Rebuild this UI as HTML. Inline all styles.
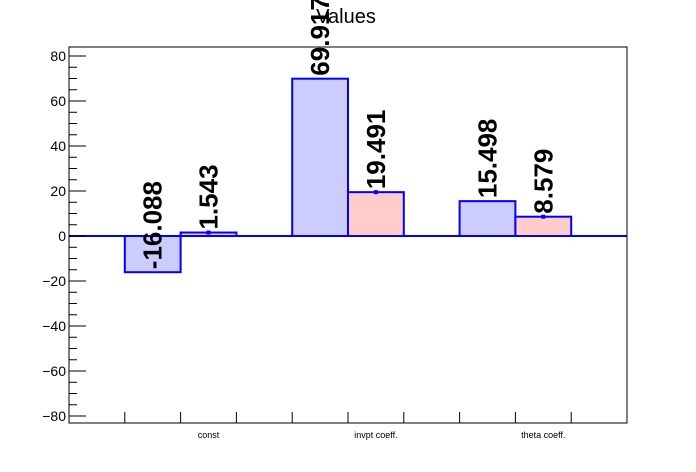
<!DOCTYPE html>
<html><head><meta charset="utf-8"><style>
html,body{margin:0;padding:0;background:#fff;}
svg{display:block;font-family:"Liberation Sans",sans-serif;}
</style></head><body>
<svg id="chart" width="696" height="472" viewBox="0 0 696 472">
<rect x="0" y="0" width="696" height="472" fill="#fff"/>
<text x="346" y="23" font-size="20" text-anchor="middle">Values</text>
<g id="bars"></g>
<g id="axes"></g>
</svg>
<script>
const categories = ["const", "invpt coeff.", "theta coeff."];
const seriesA = [-16.088, 69.917, 15.498];
const seriesB = [1.543, 19.491, 8.579];
const yTicks = [-80, -60, -40, -20, 0, 20, 40, 60, 80];

const NS = "http://www.w3.org/2000/svg";
const L = 69, R = 627, T = 47, B = 423;
const yMin = -83.1, yMax = 84;
const nBins = 10;
const bw = (R - L) / nBins;
function y(v) { return B - (v - yMin) / (yMax - yMin) * (B - T); }
function binX(i) { return L + i * bw; }
function mk(tag, attrs, parent) {
  const e = document.createElementNS(NS, tag);
  for (const k in attrs) e.setAttribute(k, attrs[k]);
  parent.appendChild(e);
  return e;
}
const bars = document.getElementById("bars");
const axes = document.getElementById("axes");

// zero line
const zl = mk("line", {x1: L, x2: R, y1: y(0), y2: y(0), stroke: "#0000ff", "stroke-width": 2}, bars);



function drawBar(bin, v, fill, name, marker) {
  const x0 = binX(bin), y0 = y(0), y1 = y(v);
  const r = mk("rect", {x: x0, y: Math.min(y0, y1), width: bw, height: Math.abs(y1 - y0), fill: fill, stroke: "#0000ff", "stroke-width": 2}, bars);
  
  
  if (marker) {
    const m = mk("rect", {x: x0 + bw / 2 - 2, y: y1 - 2, width: 4, height: 4, fill: "#0000ff"}, bars);
    
    
  }
  const cx = x0 + bw / 2, ty = y1 - 3;
  const t = mk("text", {x: 0, y: 0, "font-size": 26, "font-weight": "bold", transform: `translate(${cx + 9},${ty}) rotate(-90)`}, bars);
  t.textContent = v.toFixed(3);
  
  
}
categories.forEach((c, i) => {
  drawBar(1 + 3 * i, seriesA[i], "#ccccff", "bar-a-" + i, false);
  drawBar(2 + 3 * i, seriesB[i], "#ffcccc", "bar-b-" + i, true);
  const lbl = mk("text", {x: binX(2 + 3 * i) + bw / 2, y: 438, "font-size": 9, "text-anchor": "middle"}, axes);
  lbl.textContent = c;
  
  
});

// frame
const fr = mk("rect", {x: L, y: T, width: R - L, height: B - T, fill: "none", stroke: "#000", "stroke-width": 1}, axes);



// x ticks
for (let i = 1; i < nBins; i++) {
  const tk = mk("line", {x1: binX(i), x2: binX(i), y1: B, y2: B - 11, stroke: "#000"}, axes);
  
  
}
// y ticks
yTicks.forEach(v => {
  const tk = mk("line", {x1: L, x2: L + 17, y1: y(v), y2: y(v), stroke: "#000"}, axes);
  
  
  const tl = mk("text", {x: L - 3, y: y(v) + 5, "font-size": 14, "text-anchor": "end"}, axes);
  tl.textContent = v < 0 ? "\u2212" + Math.abs(v) : String(v);
  
  
});
for (let v = -80; v <= 84; v += 5) {
  if (v % 20 === 0) continue;
  const tk = mk("line", {x1: L, x2: L + 8, y1: y(v), y2: y(v), stroke: "#000"}, axes);
  
  
}
</script>
</body></html>
